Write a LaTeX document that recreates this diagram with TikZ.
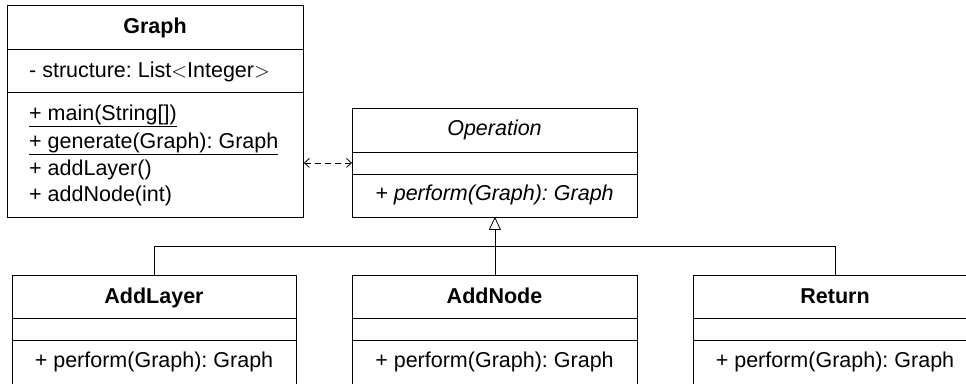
\documentclass[tikz,border=0pt]{standalone}
\usepackage{fontspec}
\setmainfont{Liberation Sans}
\usetikzlibrary{arrows.meta}
\frenchspacing
\begin{document}
\begin{tikzpicture}[x=1pt,y=-1pt,
  every node/.style={font=\fontsize{21.5}{26}\selectfont},
  box/.style={draw, line width=0.8pt, rectangle, inner sep=0pt, anchor=north west},
  txt/.style={inner sep=0pt, anchor=base west},
  ctxt/.style={inner sep=0pt, anchor=base},
  divider/.style={line width=0.8pt},
  conn/.style={line width=0.8pt},
  dep/.style={line width=0.8pt, dash pattern=on 6pt off 4pt, {Straight Barb[length=5pt,width=9pt]}-{Straight Barb[length=5pt,width=9pt]}},
  inh/.style={line width=0.8pt, -{Triangle[open,length=13pt,width=12pt,fill=white]}}
]
\useasboundingbox (0,0) rectangle (966,383);
\clip (0,0) rectangle (966,383);
% Graph class
\node[box, minimum width=296pt, minimum height=212pt] (graph) at (7,5) {};
\draw[divider] (7,49) -- (303,49);
\draw[divider] (7,92) -- (303,92);
\node[ctxt, font=\fontsize{21.5}{26}\selectfont\bfseries] (gname) at (155,33) {Graph};
\node[txt] (gattr) at (29,77) {- structure: List$<$Integer$>$};
\node[txt] (gm1) at (29,120) {\underline{+ main(String[])}};
\node[txt] (gm2) at (29,148) {\underline{+ generate(Graph): Graph}};
\node[txt] (gm3) at (29,175) {+ addLayer()};
\node[txt] (gm4) at (29,201) {+ addNode(int)};
% Operation class
\node[box, minimum width=285pt, minimum height=109pt] (op) at (352,108) {};
\draw[divider] (352,152) -- (637,152);
\draw[divider] (352,174) -- (637,174);
\node[ctxt, font=\fontsize{21.5}{26}\selectfont\itshape] (oname) at (494.5,135) {Operation};
\node[ctxt, font=\fontsize{21.5}{26}\selectfont\itshape] (om1) at (494.5,200) {+ perform(Graph): Graph};
% Subclasses
\node[box, minimum width=284pt, minimum height=140pt] (addlayer) at (12,275) {};
\draw[divider] (12,318) -- (296,318);
\draw[divider] (12,340) -- (296,340);
\node[ctxt, font=\fontsize{21.5}{26}\selectfont\bfseries] (alname) at (154,303) {AddLayer};
\node[ctxt] (alm) at (154,367) {+ perform(Graph): Graph};
\node[box, minimum width=285pt, minimum height=140pt] (addnode) at (352,275) {};
\draw[divider] (352,318) -- (637,318);
\draw[divider] (352,340) -- (637,340);
\node[ctxt, font=\fontsize{21.5}{26}\selectfont\bfseries] (anname) at (494.5,303) {AddNode};
\node[ctxt] (anm) at (494.5,367) {+ perform(Graph): Graph};
\node[box, minimum width=284pt, minimum height=140pt] (ret) at (693,275) {};
\draw[divider] (693,318) -- (977,318);
\draw[divider] (693,340) -- (977,340);
\node[ctxt, font=\fontsize{21.5}{26}\selectfont\bfseries] (rname) at (835,303) {Return};
\node[ctxt] (rm) at (835,367) {+ perform(Graph): Graph};
% Connectors
\coordinate (bus) at (494.5,246);
\draw[dep] (graph.east |- op.west) -- (op.west);
\draw[inh] (addnode.north) -- ([yshift=1pt]op.south);
\draw[conn] (addlayer.north) |- (bus);
\draw[conn] (ret.north) |- (bus);
\end{tikzpicture}
\end{document}
